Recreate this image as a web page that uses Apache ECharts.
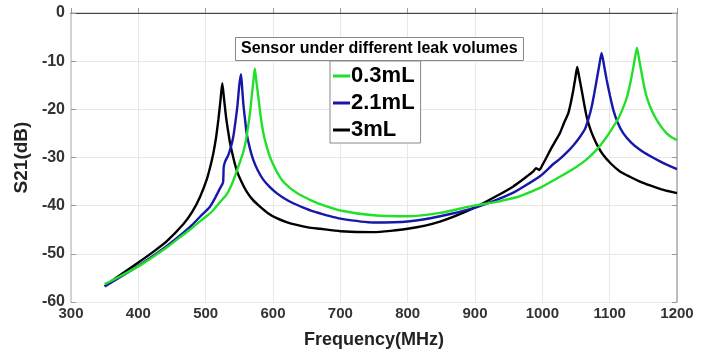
<!DOCTYPE html>
<html>
<head>
<meta charset="utf-8">
<script src="https://cdn.jsdelivr.net/npm/echarts@6/dist/echarts.min.js"></script>
<style>
  html, body { margin: 0; padding: 0; background: #fff; }
  #chart { width: 711px; height: 354px; }
</style>
</head>
<body>
<div id="chart"></div>
<script>
// values, [frequency MHz, S21 dB]
var green03 = [
  [350, -56.3], [371, -54.8], [400, -52.6], [420, -50.8], [442, -48.7], [467, -46.0],
  [480, -44.6], [492, -43.2], [502, -42.1], [511, -41.0], [521, -39.3], [531, -37.7],
  [539, -35.5], [546, -32.9], [551, -30.9], [556, -28.8], [560, -26.3], [563, -23.6],
  [566, -20.6], [568.3, -17.4], [570.8, -14.2], [573, -11.5], [575.5, -14.4], [578.2, -17.4],
  [580.7, -20.3], [583.2, -22.9], [586.5, -25.5], [590.6, -27.7], [595, -29.7], [600.5, -31.5],
  [607, -33.3], [615, -35.0], [625, -36.3], [635, -37.3], [645, -38.1], [655, -38.8],
  [670, -39.7], [700, -41.0], [749, -42.0], [800, -42.2], [848, -41.5], [898, -40.0],
  [932, -39.2], [957, -38.4], [967, -38.0], [996.5, -36.3], [1026, -34.0], [1051, -31.9],
  [1064, -30.6], [1075.7, -29.1], [1086, -27.5], [1095.6, -25.7], [1104, -23.9], [1112.8, -21.9],
  [1119, -20.0], [1125.2, -17.7], [1129, -15.6], [1132.6, -13.2], [1136.5, -10.2], [1140.5, -7.2],
  [1144, -9.8], [1147.5, -12.5], [1151, -15.1], [1154.9, -17.4], [1162, -20.1], [1169.8, -22.2],
  [1177, -23.7], [1184.6, -25.0], [1192, -25.8], [1200, -26.4]
];
var blue21 = [
  [350, -56.8], [371, -55.0], [400, -52.5], [420, -50.6], [442, -48.4], [467, -45.6],
  [480, -44.0], [491.6, -42.3], [506.4, -40.2], [514, -38.4], [521.3, -36.4], [525.8, -35.2],
  [526.8, -32.0], [529, -30.8], [533.6, -29.5], [537.5, -27.8], [541, -25.7], [544, -22.8],
  [547, -19.5], [550, -14.9], [552.5, -12.7], [554.2, -15.6], [555.9, -18.8], [558.4, -22.0],
  [560.9, -25.0], [565.5, -28.0], [570.7, -30.5], [577.5, -32.7], [585.5, -34.6], [595, -36.1],
  [605.4, -37.4], [617, -38.5], [630, -39.5], [645, -40.4], [660, -41.2], [680, -42.0],
  [700, -42.7], [749, -43.5], [800, -43.3], [848, -42.2], [898, -40.5], [932, -38.8],
  [957, -37.3], [967, -36.5], [996.5, -33.9], [1016, -31.4], [1026, -30.3], [1036, -29.0],
  [1046, -27.5], [1055, -25.9], [1063.3, -24.1], [1068.5, -22.0], [1073.2, -19.5], [1077, -16.8],
  [1080.7, -13.9], [1084.5, -10.9], [1088, -8.3], [1091.8, -11.0], [1095.6, -13.9], [1100.5, -17.2],
  [1105.4, -20.1], [1112, -22.8], [1120.3, -25.0], [1132, -26.9], [1145, -28.4], [1160, -29.7],
  [1174.7, -30.8], [1188, -31.7], [1200, -32.4]
];
var black3 = [
  [350, -56.7], [371, -54.6], [400, -51.8], [420, -49.8], [442, -47.4], [467, -43.8],
  [480, -41.3], [491.6, -38.2], [501.5, -34.6], [507, -31.8], [511.4, -29.1], [515.5, -25.8],
  [518.8, -22.2], [521.8, -18.4], [524.7, -14.6], [527.5, -18.1], [530.2, -21.5], [533.2, -24.4],
  [536.2, -27.0], [541, -30.0], [546, -32.6], [553, -35.0], [560.9, -37.1], [570, -38.8],
  [580.7, -40.2], [592, -41.5], [605.4, -42.6], [620, -43.4], [635.2, -44.0], [652, -44.5],
  [670, -44.8], [700, -45.3], [749, -45.5], [800, -44.8], [848, -43.3], [898, -40.5],
  [932, -38.0], [957, -36.0], [967, -35.0], [980, -33.6], [986.6, -32.9], [990.5, -32.2],
  [995.4, -32.6], [1000, -31.6], [1006.5, -29.9], [1014, -27.9], [1021, -26.2], [1026.2, -24.9],
  [1032, -22.9], [1038.6, -20.8], [1042.5, -18.5], [1046, -16.0], [1049, -13.5], [1051.8, -11.2],
  [1055, -13.5], [1058.4, -16.0], [1062, -18.8], [1065.8, -21.5], [1070.5, -23.8], [1075.7, -25.7],
  [1082.5, -27.7], [1090.5, -29.5], [1102, -31.3], [1115.3, -32.9], [1130, -34.0], [1145, -35.0],
  [1160, -35.8], [1174.7, -36.5], [1188, -37.0], [1200, -37.4]
];
var seriesNames = ['0.3mL', '2.1mL', '3mL'];
var seriesColors = ['#22e02a', '#1717a8', '#000000'];
var seriesData = [green03, blue21, black3];

var fontFam = '"Liberation Sans", Arial, sans-serif';
var chart = echarts.init(document.getElementById('chart'));

var series = seriesNames.map(function (name, i) {
  return {
    name: name,
    type: 'line',
    data: seriesData[i],
    symbol: 'none',
    smooth: 0.2,
    lineStyle: { width: 2.4, color: seriesColors[i] },
    itemStyle: { color: seriesColors[i] },
    z: 3 - i
  };
});

var option = {
  backgroundColor: '#fff',
  animation: false,
  title: {
    text: 'Sensor under different leak volumes',
    left: 235,
    top: 37,
    padding: [3, 6, 3, 6],
    borderColor: '#888',
    borderWidth: 1,
    backgroundColor: '#fff',
    textStyle: { fontFamily: fontFam, fontWeight: 'bold', fontSize: 16, lineHeight: 18, color: '#000' }
  },
  legend: {
    orient: 'vertical',
    left: 330,
    top: 61,
    padding: [4, 6, 2, 3],
    itemGap: 5,
    itemWidth: 17,
    itemHeight: 3,
    icon: 'rect',
    borderColor: '#888',
    borderWidth: 1,
    backgroundColor: '#fff',
    data: seriesNames,
    textStyle: { fontFamily: fontFam, fontWeight: 'bold', fontSize: 22, lineHeight: 22, color: '#000', padding: [0, 0, 0, -4] }
  },
  grid: { left: 71, right: 34, top: 13, bottom: 52 },
  xAxis: [{
    type: 'value',
    min: 300,
    max: 1200,
    interval: 100,
    name: 'Frequency(MHz)',
    nameLocation: 'middle',
    nameGap: 29,
    nameTextStyle: { fontFamily: fontFam, fontWeight: 'bold', fontSize: 18, color: '#222' },
    axisLine: { show: true, lineStyle: { color: '#c8c8c8', width: 1.5 } },
    axisTick: { show: true, inside: true, length: 5, lineStyle: { color: '#999' } },
    axisLabel: {
      fontFamily: fontFam, fontWeight: 'bold', fontSize: 15, color: '#333', margin: 4,
      formatter: function (v) { return String(v); }
    },
    splitLine: { show: true, lineStyle: { color: '#e8e8e8', width: 1 } }
  }, {
    type: 'value',
    position: 'top',
    min: 300,
    max: 1200,
    interval: 100,
    axisLine: { show: true, onZero: false, lineStyle: { color: '#444', width: 1.2 } },
    axisTick: { show: false },
    axisLabel: { show: false },
    splitLine: { show: false }
  }],
  yAxis: [{
    type: 'value',
    min: -60,
    max: 0,
    interval: 10,
    name: 'S21(dB)',
    nameLocation: 'middle',
    nameGap: 38,
    nameTextStyle: { fontFamily: fontFam, fontWeight: 'bold', fontSize: 19, color: '#222' },
    axisLine: { show: true, lineStyle: { color: '#c8c8c8', width: 1.5 } },
    axisTick: { show: true, inside: true, length: 5, lineStyle: { color: '#999' } },
    axisLabel: { fontFamily: fontFam, fontWeight: 'bold', fontSize: 16, color: '#333', margin: 6 },
    splitLine: { show: true, lineStyle: { color: '#e8e8e8', width: 1 } }
  }, {
    type: 'value',
    position: 'right',
    min: -60,
    max: 0,
    interval: 10,
    axisLine: { show: true, onZero: false, lineStyle: { color: '#aaa', width: 1.5 } },
    axisTick: { show: true, inside: true, length: 5, lineStyle: { color: '#999' } },
    axisLabel: { show: false },
    splitLine: { show: false }
  }],
  series: series
};

chart.setOption(option);
</script>
</body>
</html>
